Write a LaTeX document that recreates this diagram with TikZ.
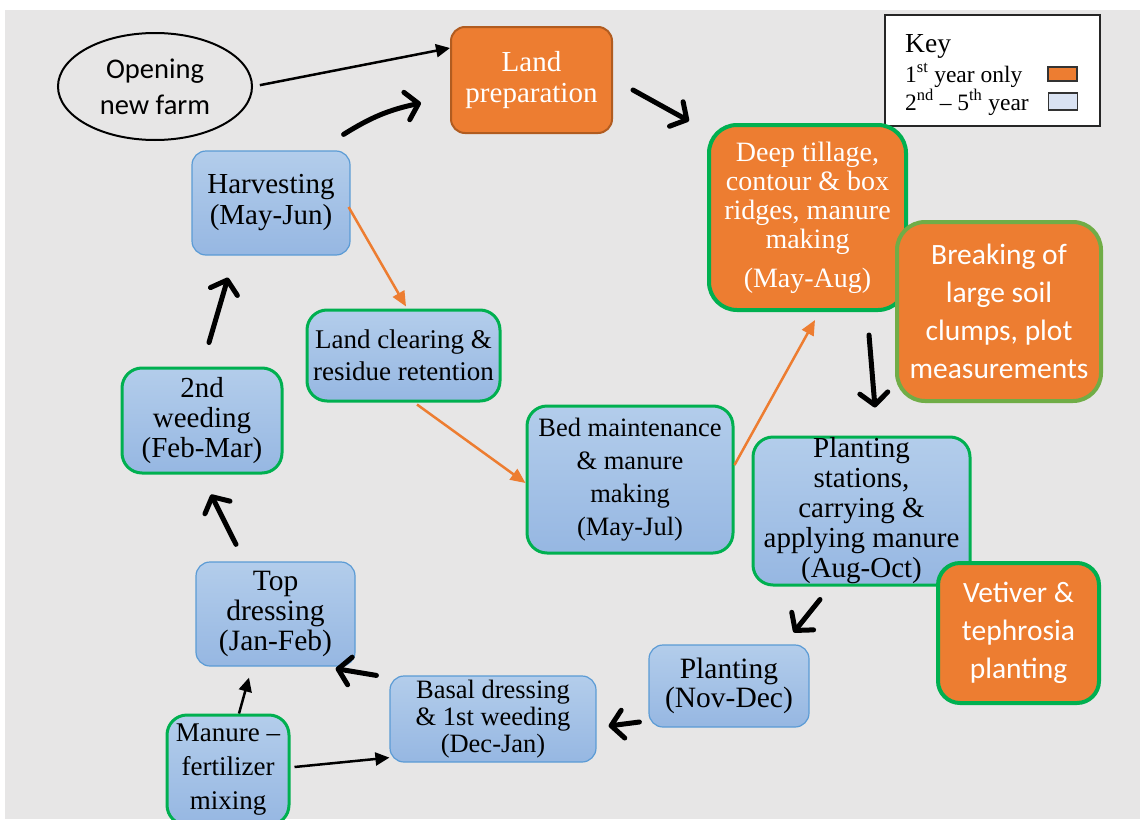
\documentclass[tikz,border=0pt]{standalone}
\usepackage{fontspec}
\setmainfont{Liberation Serif}
\newfontfamily\calibri{Carlito}
\usepackage{tikz}
\usetikzlibrary{arrows.meta,shapes.geometric,positioning}

\definecolor{bggray}{HTML}{E7E6E6}
\definecolor{firstorange}{HTML}{ED7D31}
\definecolor{orangeline}{HTML}{B15C20}
\definecolor{stagegreen}{HTML}{00B050}
\definecolor{leafgreen}{HTML}{70AD47}
\definecolor{stagetop}{HTML}{B3CDEB}
\definecolor{stagebot}{HTML}{96B7E2}
\definecolor{stageline}{HTML}{5B9BD5}
\definecolor{keyblue}{HTML}{DAE3F3}

\tikzset{
  stage/.style={rounded corners=14pt, align=center, inner sep=0pt,
    top color=stagetop, bottom color=stagebot, draw=stageline, line width=1.2pt,
    font=\fontsize{29}{30}\selectfont},
  greenstage/.style={stage, draw=stagegreen, line width=3pt, rounded corners=20pt},
  firstyear/.style={rounded corners=28pt, align=center, inner sep=0pt,
    fill=firstorange, draw=stagegreen, line width=4pt, text=white},
  swatch/.style={draw=black!80, line width=1.5pt, minimum width=29pt, minimum height=14pt, inner sep=0pt},
  cyc/.style={-{Straight Barb[length=12pt,width=28pt,round]}, line width=5pt, line cap=round},
  link/.style={-{Triangle[length=14pt,width=13pt]}, line width=2.5pt},
  feed/.style={-{Triangle[length=15pt,width=13pt]}, line width=2.5pt, draw=firstorange, fill=firstorange}
}

\begin{document}
\begin{tikzpicture}[x=1pt,y=-1pt]
\useasboundingbox (0,0) rectangle (1140,819);
\fill[bggray] (5,10) rectangle (1140,819);

% start of a new farm
\node[ellipse, draw, line width=2pt, minimum width=194pt, minimum height=107pt, inner sep=0pt,
      align=center, font=\calibri\fontsize{28.5}{36}\selectfont] (opening) at (155,86.5) {Opening\\new farm};

\node[rounded corners=14pt, fill=firstorange, draw=orangeline, line width=2pt, text=white, align=center,
      minimum width=161pt, minimum height=106pt, inner sep=0pt, font=\fontsize{29}{31}\selectfont]
      (landprep) at (531.5,80) {Land\\preparation};

% key
\node[draw=black!85, fill=white, line width=1.5pt, minimum width=215pt, minimum height=111pt, inner sep=0pt]
      (key) at (992.5,70.5) {};
\node[anchor=base west, inner sep=0pt, font=\fontsize{27.5}{30}\selectfont] (keytitle) at (905,52) {Key};
\node[anchor=base west, inner sep=0pt, font=\fontsize{23.5}{26}\selectfont] (keyfirst) at (905,82)
      {1\textsuperscript{st} year only};
\node[anchor=base west, inner sep=0pt, font=\fontsize{23.5}{26}\selectfont] (keylater) at (905,110)
      {2\textsuperscript{nd} -- 5\textsuperscript{th} year};
\node[swatch, fill=firstorange] (swfirst) at (1062.5,74) {};
\node[swatch, fill=keyblue, minimum height=17pt] (swlater) at (1063,101.5) {};

% first year work
\node[firstyear, minimum width=197pt, minimum height=185pt, font=\fontsize{28}{29}\selectfont]
      (deeptill) at (807.5,217.5) {Deep tillage,\\contour \& box\\ridges, manure\\making\\[10pt](May-Aug)};
\node[firstyear, draw=leafgreen, minimum width=204pt, minimum height=179pt, font=\calibri\fontsize{29.5}{38}\selectfont]
      (breaking) at (999,311.5) {Breaking of\\large soil\\clumps, plot\\measurements};

% yearly cycle
\node[stage, minimum width=158pt, minimum height=104pt, font=\fontsize{29}{31}\selectfont]
      (harvest) at (271,203) {Harvesting\\(May-Jun)};
\node[greenstage, minimum width=193pt, minimum height=91pt, font=\fontsize{27}{32}\selectfont]
      (landclear) at (403.5,355.5) {Land clearing \&\\residue retention};
\node[greenstage, minimum width=160pt, minimum height=105pt] (weed2) at (202,420.5) {2nd\\weeding\\(Feb-Mar)};
\node[greenstage, minimum width=206pt, minimum height=147pt, font=\fontsize{26.5}{33}\selectfont]
      (bedmaint) at (630,479.5) {Bed maintenance\\\& manure\\making\\(May-Jul)};
\node[greenstage, minimum width=217pt, minimum height=148pt, font=\fontsize{29}{30}\selectfont]
      (plantstat) at (861.5,511) {Planting\\stations,\\carrying \&\\applying manure\\(Aug-Oct)};
\node[firstyear, minimum width=161pt, minimum height=140pt, rounded corners=22pt, font=\calibri\fontsize{29.5}{38}\selectfont]
      (vetiver) at (1018.5,633) {Vetiver \&\\tephrosia\\planting};
\node[stage, minimum width=160pt, minimum height=82pt, font=\fontsize{29.5}{29}\selectfont]
      (planting) at (729,686) {Planting\\(Nov-Dec)};
\node[stage, minimum width=206pt, minimum height=86pt, font=\fontsize{26.5}{27}\selectfont]
      (basal) at (493,719) {Basal dressing\\\& 1st weeding\\(Dec-Jan)};
\node[stage, minimum width=159pt, minimum height=104pt, font=\fontsize{29.5}{30}\selectfont]
      (topdress) at (275.5,614) {Top\\dressing\\(Jan-Feb)};
\node[greenstage, minimum width=122pt, minimum height=110pt, font=\fontsize{27}{34}\selectfont]
      (manure) at (228,770) {Manure --\\fertilizer\\mixing};

% main cycle arrows
\draw[cyc] ([xshift=-7pt,yshift=16pt]harvest.north east) to[bend left=10] ([xshift=-29pt,yshift=-23pt]landprep.west);
\draw[cyc] ([xshift=20pt,yshift=-10pt]landprep.east) -- ([xshift=-18pt,yshift=2pt]deeptill.north west);
\draw[cyc] ([xshift=-39pt,yshift=-23pt]deeptill.south east) -- ([xshift=13.5pt,yshift=28pt]plantstat.north);
\draw[cyc] ([xshift=-41.5pt,yshift=-13pt]plantstat.south) -- ([xshift=-16pt,yshift=12pt]planting.north east);
\draw[cyc] ([xshift=-9pt,yshift=-36pt]planting.west) -- ([xshift=12pt,yshift=-7pt]basal.east);
\draw[cyc] ([xshift=-13pt]basal.north west) -- ([xshift=-20pt,yshift=-2pt]topdress.south east);
\draw[cyc] ([xshift=-39.5pt,yshift=17pt]topdress.north) -- ([xshift=9pt,yshift=-20pt]weed2.south);
\draw[cyc] ([xshift=7pt,yshift=24pt]weed2.north) -- ([xshift=-43pt,yshift=-22pt]harvest.south);

% side links
\draw[link, shorten <=7pt] (opening.east) -- ([yshift=32pt]landprep.west);
\draw[link] ([xshift=11pt]manure.north) -- ([xshift=-26.5pt,yshift=-11pt]topdress.south);
\draw[link] ([xshift=4pt,yshift=3pt]manure.east) -- ([yshift=5pt]basal.south west);

% later year links
\draw[feed] ([xshift=-2pt,yshift=-4pt]harvest.east) -- ([xshift=2.5pt,yshift=2pt]landclear.north);
\draw[feed] ([xshift=13.5pt,yshift=-2pt]landclear.south) -- ([yshift=-3.5pt]bedmaint.west);
\draw[feed] ([yshift=14.5pt]bedmaint.east) -- ([xshift=7.5pt,yshift=-8pt]deeptill.south);

\end{tikzpicture}
\end{document}
